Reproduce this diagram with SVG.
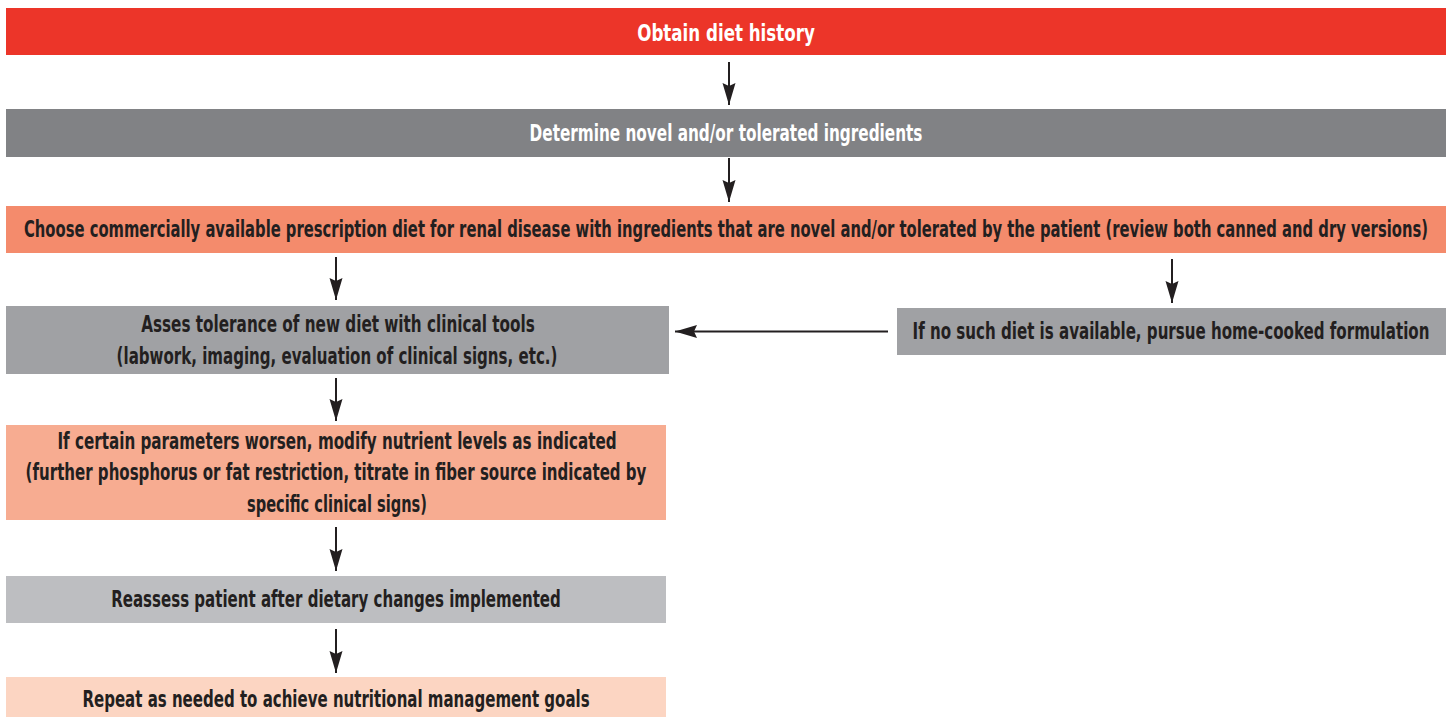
<svg xmlns="http://www.w3.org/2000/svg" width="1452" height="717" viewBox="0 0 1452 717">
<style>
.t{font-family:"DejaVu Sans Condensed","Liberation Sans",sans-serif;font-weight:bold;font-size:23px;text-anchor:middle;fill:#231F20}
.w{fill:#FFFFFF}
.c{stroke:#231F20;stroke-width:2;fill:none}
</style>
<defs>
<marker id="ah" markerUnits="userSpaceOnUse" markerWidth="24" markerHeight="14" refX="22" refY="7" orient="auto">
<path d="M0,0.5 L22,7 L0,13.5 L3,7 Z" fill="#231F20"/>
</marker>
</defs>
<rect width="1452" height="717" fill="#FFFFFF"/>
<g id="n1"><rect x="6" y="8" width="1440" height="47" fill="#EC3529"/><text class="t w" transform="translate(726 0) scale(0.8 1)" x="0" y="41" font-size="27" textLength="222" lengthAdjust="spacingAndGlyphs">Obtain diet history</text></g>
<g id="n2"><rect x="6" y="109" width="1440" height="48" fill="#818285"/><text class="t w" transform="translate(726 0) scale(0.8 1)" x="0" y="141" textLength="491" lengthAdjust="spacingAndGlyphs">Determine novel and/or tolerated ingredients</text></g>
<g id="n3"><rect x="6" y="206" width="1440" height="47" fill="#F48B6C"/><text class="t" transform="translate(726 0) scale(0.8 1)" x="0" y="237" textLength="1755" lengthAdjust="spacingAndGlyphs">Choose commercially available prescription diet for renal disease with ingredients that are novel and/or tolerated by the patient (review both canned and dry versions)</text></g>
<g id="n4"><rect x="6" y="306" width="663" height="68" fill="#A0A1A4"/><text class="t" transform="translate(338 0) scale(0.8 1)" x="0" y="332" textLength="492" lengthAdjust="spacingAndGlyphs">Asses tolerance of new diet with clinical tools</text><text class="t" transform="translate(337 0) scale(0.8 1)" x="0" y="364" textLength="551" lengthAdjust="spacingAndGlyphs">(labwork, imaging, evaluation of clinical signs, etc.)</text></g>
<g id="n5"><rect x="897" y="308" width="549" height="47" fill="#A0A1A4"/><text class="t" transform="translate(1171 0) scale(0.8 1)" x="0" y="339" textLength="646" lengthAdjust="spacingAndGlyphs">If no such diet is available, pursue home-cooked formulation</text></g>
<g id="n6"><rect x="6" y="425" width="660" height="95" fill="#F7AC91"/><text class="t" transform="translate(337 0) scale(0.8 1)" x="0" y="449" textLength="699" lengthAdjust="spacingAndGlyphs">If certain parameters worsen, modify nutrient levels as indicated</text><text class="t" transform="translate(336 0) scale(0.8 1)" x="0" y="480" textLength="776" lengthAdjust="spacingAndGlyphs">(further phosphorus or fat restriction, titrate in fiber source indicated by</text><text class="t" transform="translate(337 0) scale(0.8 1)" x="0" y="512" textLength="225" lengthAdjust="spacingAndGlyphs">specific clinical signs)</text></g>
<g id="n7"><rect x="6" y="576" width="660" height="47" fill="#BDBEC1"/><text class="t" transform="translate(336 0) scale(0.8 1)" x="0" y="607" textLength="562" lengthAdjust="spacingAndGlyphs">Reassess patient after dietary changes implemented</text></g>
<g id="n8"><rect x="6" y="677" width="660" height="40" fill="#FCD5C2"/><text class="t" transform="translate(336 0) scale(0.8 1)" x="0" y="707" textLength="634" lengthAdjust="spacingAndGlyphs">Repeat as needed to achieve nutritional management goals</text></g>
<g id="connectors">
<line class="c" x1="729" y1="62" x2="729" y2="105" marker-end="url(#ah)"/>
<line class="c" x1="729" y1="158" x2="729" y2="202" marker-end="url(#ah)"/>
<line class="c" x1="336" y1="257" x2="336" y2="300" marker-end="url(#ah)"/>
<line class="c" x1="1172" y1="259" x2="1172" y2="303" marker-end="url(#ah)"/>
<line class="c" x1="888" y1="331.5" x2="675" y2="331.5" marker-end="url(#ah)"/>
<line class="c" x1="336" y1="378" x2="336" y2="421" marker-end="url(#ah)"/>
<line class="c" x1="336" y1="527" x2="336" y2="571" marker-end="url(#ah)"/>
<line class="c" x1="336" y1="629" x2="336" y2="673" marker-end="url(#ah)"/>
</g>
</svg>
